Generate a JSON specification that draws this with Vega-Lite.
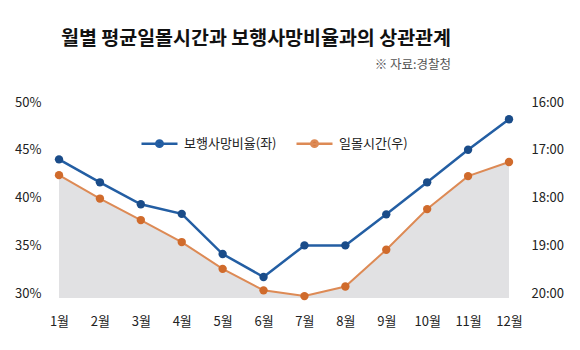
{
  "$schema": "https://vega.github.io/schema/vega-lite/v6.json",
  "width": 450,
  "height": 196,
  "autosize": {"type": "none"},
  "padding": {"left": 59, "top": 102, "right": 71, "bottom": 52},
  "background": "#ffffff",
  "title": {
    "text": "월별 평균일몰시간과 보행사망비율과의 상관관계",
    "subtitle": "※ 자료:경찰청\u2003\u2006",
    "anchor": "end",
    "frame": "group",
    "dx": -58,
    "offset": 24,
    "font": "Noto Sans CJK KR",
    "fontSize": 19.5,
    "fontWeight": "bold",
    "color": "#111111",
    "subtitleFont": "Noto Sans CJK KR",
    "subtitleFontSize": 12.5,
    "subtitleColor": "#555555",
    "subtitlePadding": 9
  },
  "config": {
    "view": {"stroke": null},
    "font": "Noto Sans CJK KR",
    "axis": {
      "ticks": false,
      "domain": false,
      "grid": false,
      "title": null,
      "labelFontSize": 13,
      "labelColor": "#222222",
      "labelFont": "Noto Sans CJK KR"
    }
  },
  "data": {
    "values": [
      {"month": "1월", "rate": 44.0, "sunset": 17.53},
      {"month": "2월", "rate": 41.6, "sunset": 18.02},
      {"month": "3월", "rate": 39.3, "sunset": 18.47},
      {"month": "4월", "rate": 38.3, "sunset": 18.93},
      {"month": "5월", "rate": 34.1, "sunset": 19.49},
      {"month": "6월", "rate": 31.7, "sunset": 19.94},
      {"month": "7월", "rate": 35.0, "sunset": 20.06},
      {"month": "8월", "rate": 35.0, "sunset": 19.86},
      {"month": "9월", "rate": 38.25, "sunset": 19.09},
      {"month": "10월", "rate": 41.6, "sunset": 18.24},
      {"month": "11월", "rate": 45.0, "sunset": 17.55},
      {"month": "12월", "rate": 48.2, "sunset": 17.255}
    ]
  },
  "encoding": {
    "x": {
      "field": "month",
      "type": "ordinal",
      "sort": null,
      "scale": {"type": "point", "padding": 0},
      "axis": {"labelAngle": 0, "labelPadding": 17}
    }
  },
  "layer": [
    {
      "encoding": {
        "y": {
          "field": "sunset",
          "type": "quantitative",
          "scale": {"domain": [16, 20.1], "reverse": true, "nice": false, "zero": false},
          "axis": {"orient": "right", "values": [16, 17, 18, 19, 20], "labelExpr": "datum.value + ':00'", "labelPadding": 22}
        }
      },
      "layer": [
        {
          "mark": {"type": "area", "color": "#e1e1e3"},
          "encoding": {"y2": {"datum": 20.1}}
        },
        {
          "mark": {"type": "line", "strokeWidth": 2},
          "encoding": {
            "color": {
              "datum": "일몰시간(우)",
              "scale": {"domain": ["보행사망비율(좌)", "일몰시간(우)"], "range": ["#235ea3", "#dd8a55"]},
              "legend": {
                "title": null,
                "orient": "none",
                "legendX": 81,
                "legendY": 22,
                "direction": "horizontal",
                "symbolType": "M-1,0L1,0M0.18,0A0.18,0.18,0,1,1,-0.18,0A0.18,0.18,0,1,1,0.18,0",
                "symbolSize": 1296,
                "symbolStrokeWidth": 2.5,
                "labelFontSize": 13,
                "labelColor": "#222222",
                "labelFont": "Noto Sans CJK KR",
                "columnPadding": 14,
                "labelOffset": 5,
                "encode": {
                  "symbols": {
                    "update": {
                      "fill": {"signal": "datum.value === '일몰시간(우)' ? '#d06b2c' : '#1a4c89'"}
                    }
                  }
                }
              }
            }
          }
        },
        {
          "mark": {"type": "point", "filled": true, "size": 70, "opacity": 1, "color": "#d06b2c"}
        }
      ]
    },
    {
      "encoding": {
        "y": {
          "field": "rate",
          "type": "quantitative",
          "scale": {"domain": [29.5, 50], "nice": false, "zero": false},
          "axis": {"orient": "left", "values": [30, 35, 40, 45, 50], "labelExpr": "datum.value + '%'", "labelPadding": 18}
        }
      },
      "layer": [
        {
          "mark": {"type": "line", "strokeWidth": 2.5},
          "encoding": {"color": {"datum": "보행사망비율(좌)"}}
        },
        {
          "mark": {"type": "point", "filled": true, "size": 70, "opacity": 1, "color": "#1a4c89"}
        }
      ]
    }
  ],
  "resolve": {"scale": {"y": "independent"}}
}
